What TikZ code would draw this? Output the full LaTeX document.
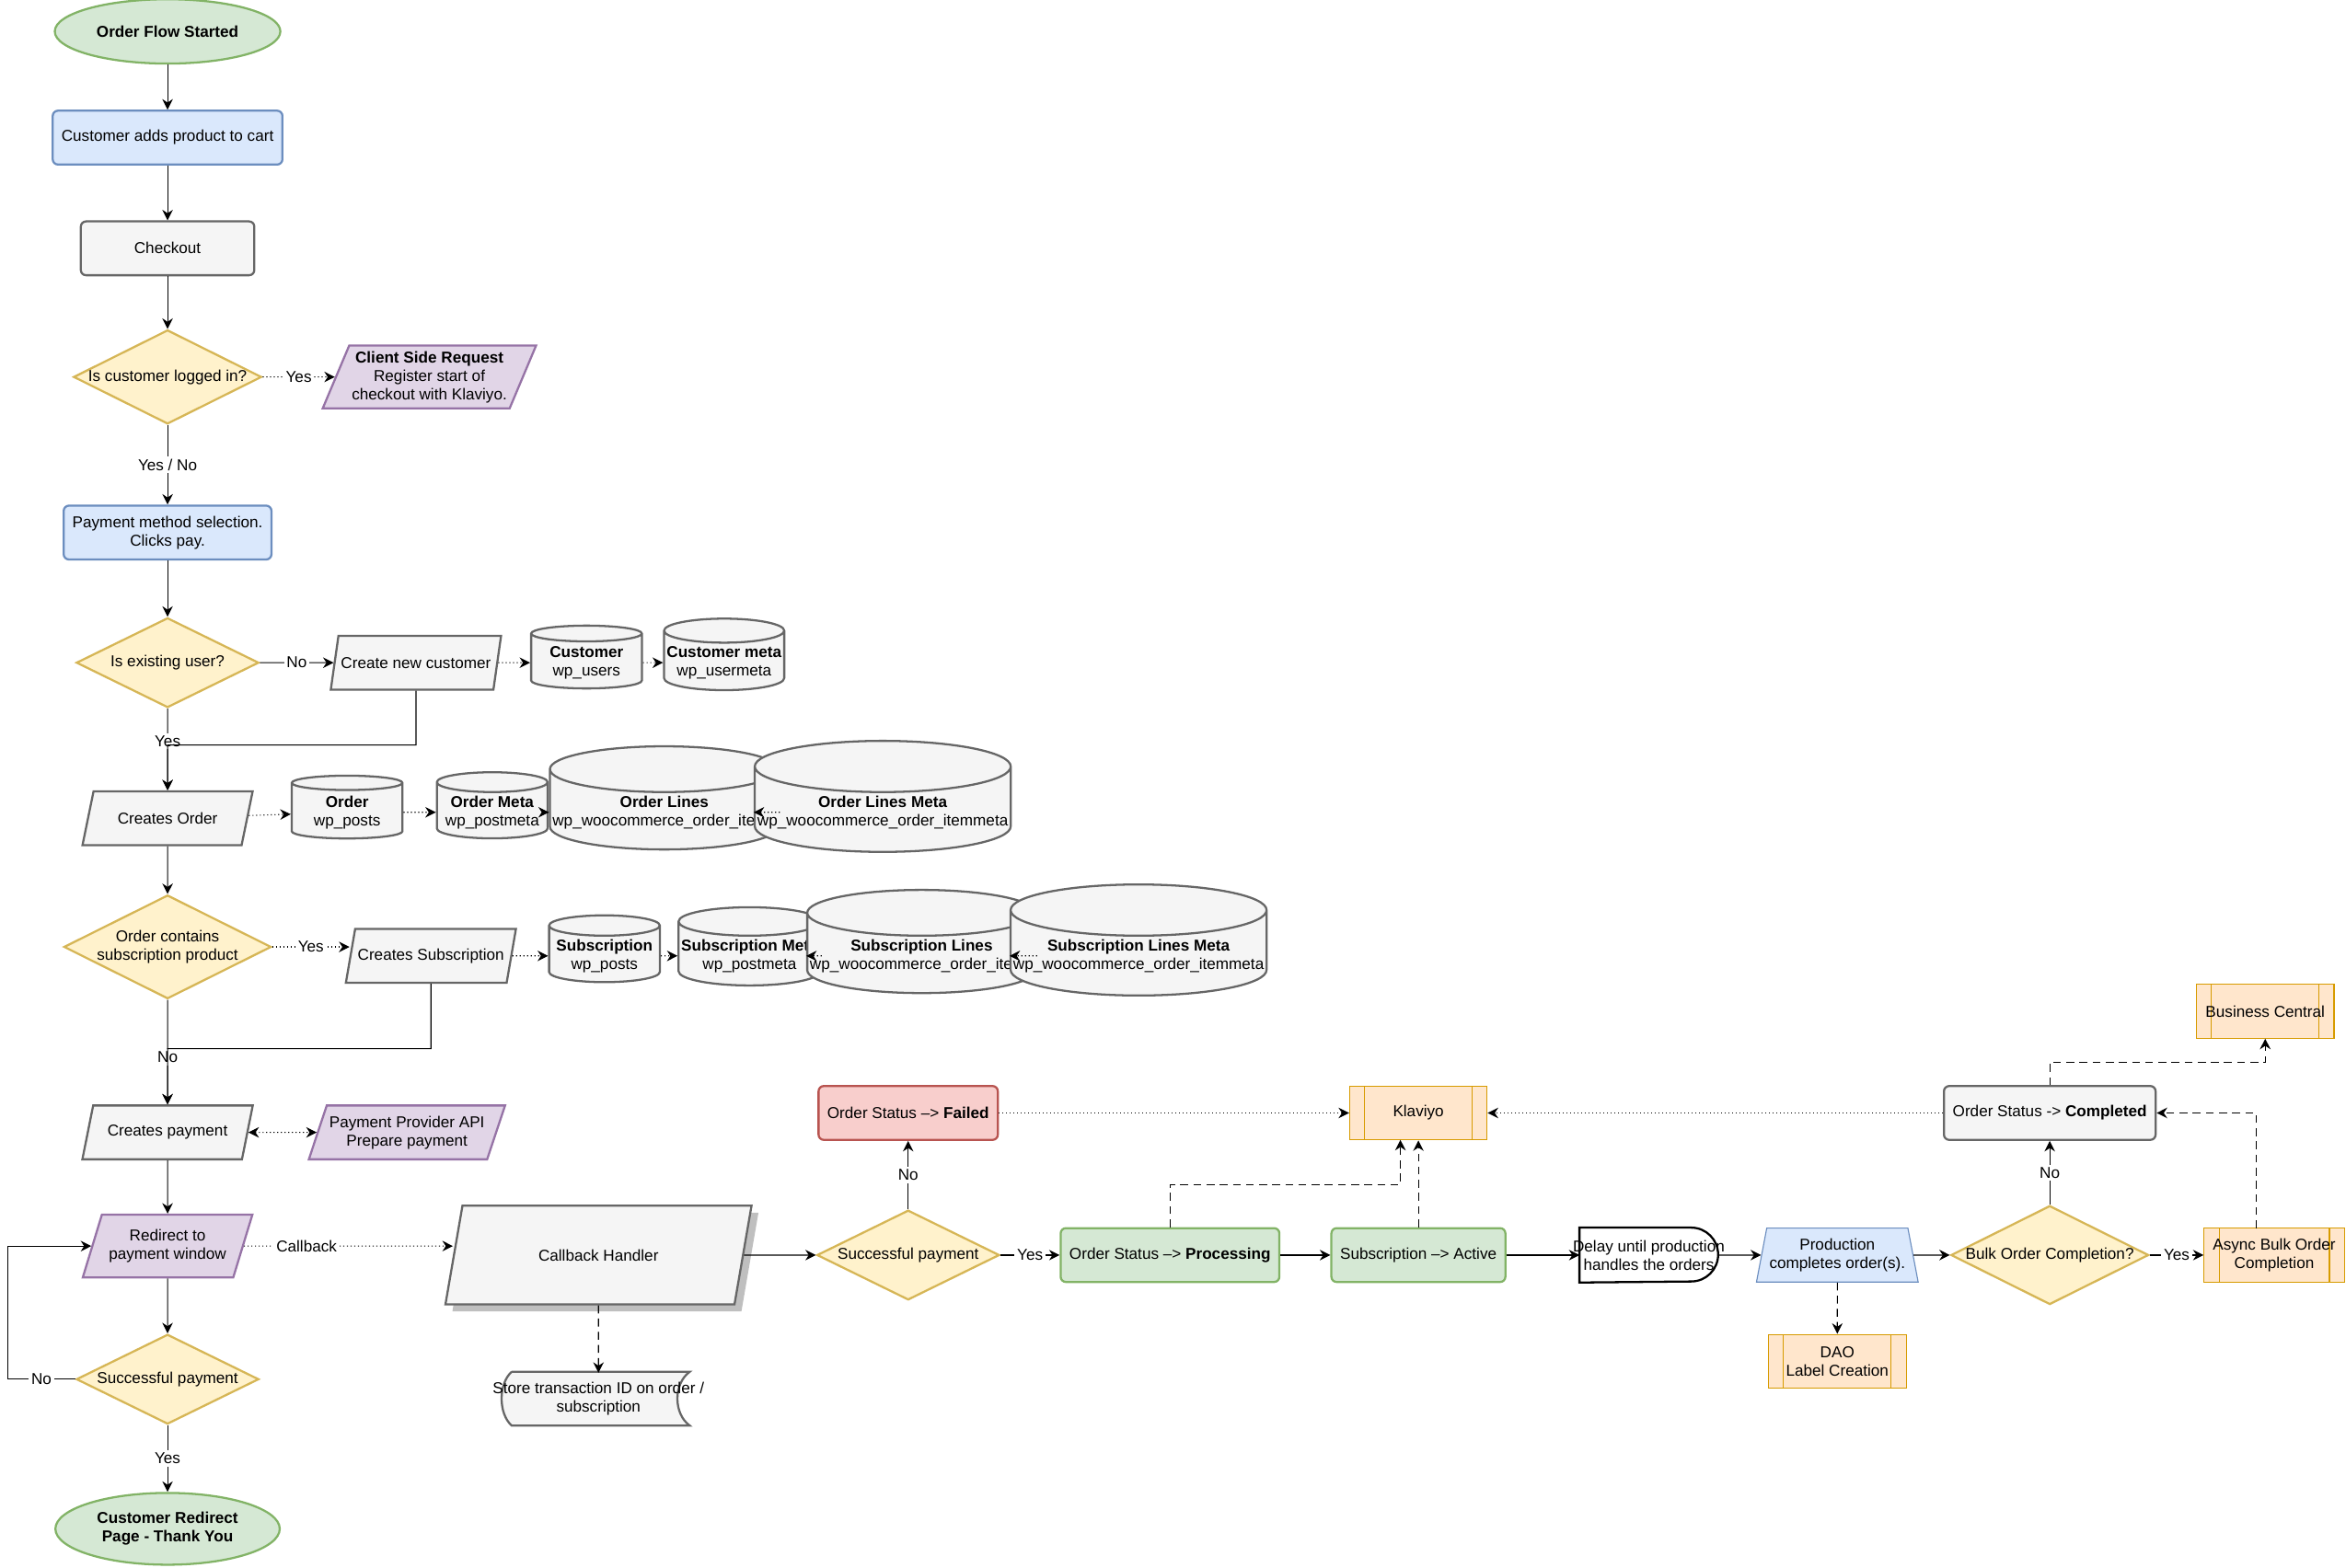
\documentclass[tikz,border=0pt]{standalone}
\usepackage{fontspec}
\setmainfont{Liberation Sans}
\usetikzlibrary{shapes.geometric,shadows,arrows.meta}
\definecolor{grnF}{HTML}{D5E8D4}\definecolor{grnD}{HTML}{82B366}
\definecolor{bluF}{HTML}{DAE8FC}\definecolor{bluD}{HTML}{6C8EBF}
\definecolor{gryF}{HTML}{F5F5F5}\definecolor{gryD}{HTML}{666666}
\definecolor{ylwF}{HTML}{FFF2CC}\definecolor{ylwD}{HTML}{D6B656}
\definecolor{prpF}{HTML}{E1D5E7}\definecolor{prpD}{HTML}{9673A6}
\definecolor{redF}{HTML}{F8CECC}\definecolor{redD}{HTML}{B85450}
\definecolor{orgF}{HTML}{FFE6CC}\definecolor{orgD}{HTML}{D79B00}
\tikzset{
  every node/.style={font=\fontsize{6}{7}\selectfont, align=center},
  terminal/.style={ellipse, draw=grnD, fill=grnF, thick, minimum width=2.08cm, minimum height=0.86cm, font=\fontsize{6}{7}\selectfont\bfseries},
  task/.style={rectangle, rounded corners=2pt, thick, minimum width=2.32cm, minimum height=0.72cm},
  decision/.style={diamond, draw=ylwD, fill=ylwF, thick, aspect=2, minimum width=2.44cm, minimum height=1.2cm, inner sep=0pt},
  io/.style={trapezium, trapezium left angle=65, trapezium right angle=115, trapezium stretches=true, thick, minimum width=2.28cm, minimum height=0.72cm, inner sep=1pt},
  db/.style={cylinder, shape border rotate=90, aspect=0.2, draw=gryD, fill=gryF, thick, minimum height=0.84cm, minimum width=#1, inner sep=1pt},
  db/.default=1.48cm,
  proc/.style={rectangle, draw=orgD, fill=orgF, minimum width=1.84cm, minimum height=0.72cm,
    path picture={\draw[orgD] ([xshift=0.2cm]path picture bounding box.north west) -- ([xshift=0.2cm]path picture bounding box.south west);
                  \draw[orgD] ([xshift=-0.2cm]path picture bounding box.north east) -- ([xshift=-0.2cm]path picture bounding box.south east);}},
  flow/.style={-{Stealth[length=4pt,width=4pt]}, thin},
  link/.style={flow, densely dashed},
  dots/.style={flow, densely dotted},
  lbl/.style={fill=white, inner sep=1pt}
}
\begin{document}
\begin{tikzpicture}[x=0.02cm, y=-0.02cm]
  \useasboundingbox (0,0) rectangle (1568,1048);

  % main column
  \node[terminal] (start) at (112,21) {Order Flow Started};
  \node[task, draw=bluD, fill=bluF] (cart) at (112,92) {Customer adds product to cart};
  \node[task, draw=gryD, fill=gryF] (checkout) at (112,166) {Checkout};
  \node[decision] (logged) at (112,252) {Is customer logged in?};
  \node[io, draw=prpD, fill=prpF, minimum width=2.4cm, minimum height=0.84cm] (client) at (287,252) {\textbf{Client Side Request}\\Register start of\\checkout with Klaviyo.};
  \node[task, draw=bluD, fill=bluF] (method) at (112,356) {Payment method selection.\\Clicks pay.};
  \node[decision] (existing) at (112,443) {Is existing user?};
  \node[io, draw=gryD, fill=gryF] (newcust) at (278,443) {Create new customer};
  \node[db] (users) at (392,443) {\textbf{Customer}\\wp\_users};
  \node[db] (usermeta) at (484,443) {\textbf{Customer meta}\\wp\_usermeta};
  \node[io, draw=gryD, fill=gryF] (order) at (112,547) {Creates Order};
  \node[db] (posts) at (232,543) {\textbf{Order}\\wp\_posts};
  \node[db] (postmeta) at (329,543) {\textbf{Order Meta}\\wp\_postmeta};
  \node[db=2.24cm] (items) at (444,543) {\textbf{Order Lines}\\wp\_woocommerce\_order\_items};
  \node[db=2.68cm] (itemmeta) at (590,543) {\textbf{Order Lines Meta}\\wp\_woocommerce\_order\_itemmeta};
  \node[decision] (contains) at (112,633) {Order contains\\subscription product};
  \node[io, draw=gryD, fill=gryF] (subs) at (288,639) {Creates Subscription};
  \node[db] (sposts) at (404,639) {\textbf{Subscription}\\wp\_posts};
  \node[db] (spostmeta) at (501,639) {\textbf{Subscription Meta}\\wp\_postmeta};
  \node[db=2.24cm] (sitems) at (616,639) {\textbf{Subscription Lines}\\wp\_woocommerce\_order\_items};
  \node[db=2.68cm] (sitemmeta) at (761,639) {\textbf{Subscription Lines Meta}\\wp\_woocommerce\_order\_itemmeta};
  \node[io, draw=gryD, fill=gryF] (payment) at (112,757) {Creates payment};
  \node[io, draw=prpD, fill=prpF] (provider) at (272,757) {Payment Provider API\\Prepare payment};
  \node[io, draw=prpD, fill=prpF, minimum height=0.84cm] (redirect) at (112,833) {Redirect to\\payment window};
  \node[decision] (paid) at (112,922) {Successful payment};
  \node[terminal, minimum height=0.96cm] (thanks) at (112,1022) {Customer Redirect\\Page - Thank You};

  % callback row
  \node[io, draw=gryD, fill=gryF, drop shadow, minimum width=4.1cm, minimum height=1.32cm] (callback) at (400,839) {Callback Handler};
  \coordinate (storeNW) at (342,917);
  \coordinate (storeNE) at (461,917);
  \coordinate (storeSE) at (461,953);
  \coordinate (storeSW) at (342,953);
  \draw[thick, draw=gryD, fill=gryF]
    (storeNW) -- (storeNE)
    .. controls (450,925) and (450,945) .. (storeSE)
    -- (storeSW)
    .. controls (333,945) and (333,925) .. (storeNW);
  \node (store) at (400,935) {Store transaction ID on order /\\subscription};
  \node[decision] (paid2) at (607,839) {Successful payment};
  \node[task, draw=redD, fill=redF] (failed) at (607,744) {Order Status --> \textbf{Failed}};
  \node[task, draw=grnD, fill=grnF] (processing) at (782,839) {Order Status --> \textbf{Processing}};
  \node[task, draw=grnD, fill=grnF] (active) at (948,839) {Subscription --> Active};
  \node[proc] (klaviyo) at (948,744) {Klaviyo};
  \node[minimum width=1.84cm, minimum height=0.72cm] (delaybox) at (1102,839) {};
  \draw[thick, fill=white] (delaybox.north west) -- ([xshift=-0.36cm]delaybox.north east) arc (90:-90:0.36cm) -- (delaybox.south west) -- cycle;
  \node (delay) at (1102,839) {Delay until production\\handles the orders};
  \node[trapezium, trapezium left angle=75, trapezium right angle=75, trapezium stretches=true, draw=bluD, fill=bluF, minimum width=1.96cm, minimum height=0.72cm, inner sep=1pt] (production) at (1228,839) {Production\\completes order(s).};
  \node[proc] (dao) at (1228,910) {DAO\\Label Creation};
  \node[decision] (bulk) at (1370,839) {Bulk Order Completion?};
  \node[proc] (async) at (1520,839) {Async Bulk Order\\Completion};
  \node[task, draw=gryD, fill=gryF] (completed) at (1370,744) {Order Status -> \textbf{Completed}};
  \node[proc] (bc) at (1514,676) {Business Central};

  % connectors
  \draw[flow] (start) -- (cart);
  \draw[flow] (cart) -- (checkout);
  \draw[flow] (checkout) -- (logged);
  \draw[dots] (logged) -- node[lbl] {Yes} (client);
  \draw[flow] (logged) -- node[lbl] {Yes / No} (method);
  \draw[flow] (method) -- (existing);
  \draw[flow] (existing) -- node[lbl] {No} (newcust);
  \draw[dots] (newcust) -- (users);
  \draw[dots] (users) -- (usermeta);
  \draw[flow] (existing) -- node[lbl, pos=0.4] {Yes} (order);
  \draw[flow] (newcust.south) |- (112,498) -- (order);
  \draw[dots] (order) -- (posts);
  \draw[dots] (posts) -- (postmeta);
  \draw[dots] (postmeta) -- (items);
  \draw[dots] (items) -- (itemmeta);
  \draw[flow] (order) -- (contains);
  \draw[dots] (contains) -- node[lbl] {Yes} (subs.west |- contains);
  \draw[dots] (subs) -- (sposts);
  \draw[dots] (sposts) -- (spostmeta);
  \draw[dots] (spostmeta) -- (sitems);
  \draw[dots] (sitems) -- (sitemmeta);
  \draw[flow] (contains) -- node[lbl, pos=0.55] {No} (payment);
  \draw[flow] (subs.south) |- (112,701) -- (payment);
  \draw[dots, {Stealth[length=4pt,width=4pt]}-{Stealth[length=4pt,width=4pt]}] (payment) -- (provider);
  \draw[flow] (payment) -- (redirect);
  \draw[flow] (redirect) -- (paid);
  \draw[flow] (paid) -- node[lbl] {Yes} (thanks);
  \draw[flow] (paid.west) -- node[lbl] {No} (5,922) |- (redirect.west);
  \draw[dots] (redirect) -- node[lbl, pos=0.3] {Callback} (callback.west |- redirect);
  \draw[link] (callback) -- (store.north);
  \draw[flow] (callback.east) -- (paid2);
  \draw[flow] (paid2) -- node[lbl] {No} (failed);
  \draw[flow] (paid2) -- node[lbl] {Yes} (processing);
  \draw[dots] (failed) -- (klaviyo);
  \draw[link] (processing.north) |- (936,792) -- (936,762);
  \draw[link] (active) -- (klaviyo);
  \draw[flow] (processing) -- (active);
  \draw[flow] (active) -- (delaybox);
  \draw[flow] (delaybox) -- (production);
  \draw[link] (production) -- (dao);
  \draw[flow] (production) -- (bulk);
  \draw[flow] (bulk) -- node[lbl] {Yes} (async);
  \draw[flow] (bulk) -- node[lbl] {No} (completed);
  \draw[dots] (completed) -- (klaviyo);
  \draw[link] (1508,821) |- (completed.east);
  \draw[link] (completed.north) |- (1514,710) -- (bc);
\end{tikzpicture}
\end{document}
